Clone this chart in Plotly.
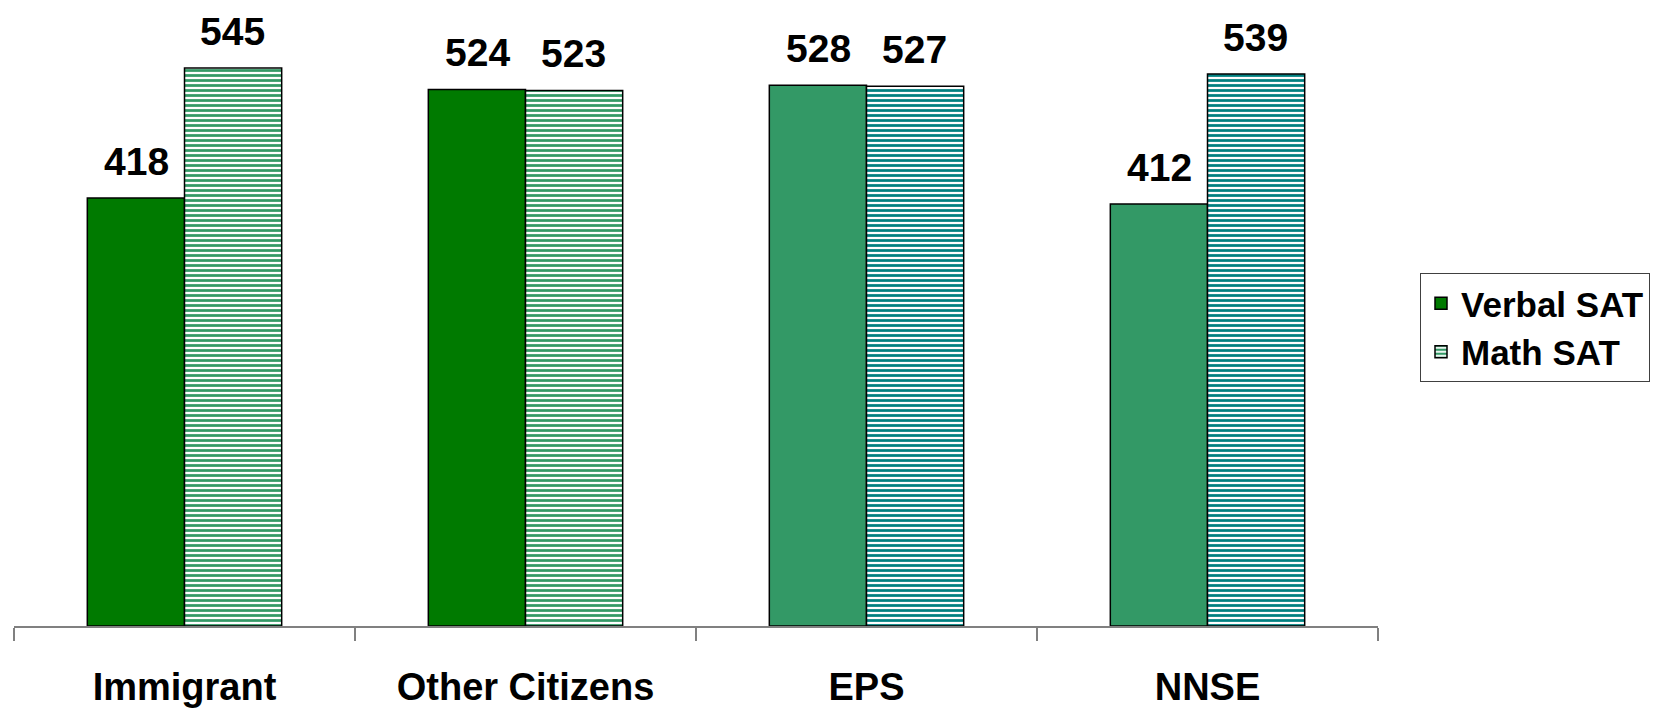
import plotly.graph_objects as go

categories = ["Immigrant", "Other Citizens", "EPS", "NNSE"]
verbal = [418, 524, 528, 412]
math = [545, 523, 527, 539]
verbal_colors = ["#007A00", "#007A00", "#339966", "#339966"]
math_stripe_colors = ["#339966", "#339966", "#008080", "#008080"]

FONT = "Arial, Liberation Sans, sans-serif"

# page has an 8px body margin; compensate so the drawing lands where the reference does
W, H = 1655, 702

fig = go.Figure()
fig.add_trace(go.Bar(
    name="Verbal SAT", x=categories, y=verbal,
    marker=dict(color=verbal_colors, line=dict(color="black", width=1.5)),
))
fig.add_trace(go.Bar(
    name="Math SAT", x=categories, y=math,
    marker=dict(color="white", line=dict(color="black", width=1.5),
                pattern=dict(shape="-", fgcolor=math_stripe_colors, bgcolor="white",
                             size=5, solidity=0.55, fillmode="replace")),
))

annotations = []
for cat, v, m in zip(categories, verbal, math):
    for val, shift in ((v, -48), (m, 48)):
        annotations.append(dict(
            x=cat, y=val, xref="x", yref="y", text=str(val), showarrow=False,
            xshift=shift, yanchor="bottom", yshift=14, borderpad=0,
            font=dict(family=FONT, size=39, color="black", weight="bold"),
        ))

fig.update_layout(
    width=W, height=H,
    paper_bgcolor="white", plot_bgcolor="white",
    barmode="group", bargap=0.43, bargroupgap=0,
    margin=dict(l=6, r=285, t=0, b=84, autoexpand=False),
    annotations=annotations,
    showlegend=True,
    legend=dict(
        xref="container", yref="container", x=1412 / W, y=1 - 265 / H,
        xanchor="left", yanchor="top",
        bgcolor="white", bordercolor="#404040", borderwidth=1,
        font=dict(family=FONT, size=35, color="black", weight="bold"),
        itemwidth=30,
    ),
    xaxis=dict(
        type="category", range=[-0.5, 3.5],
        showline=True, linecolor="#808080", linewidth=1.5,
        ticks="outside", tickson="boundaries", ticklen=13, tickcolor="#808080", tickwidth=1.5,
        tickfont=dict(family=FONT, size=38, color="black", weight="bold"),
        ticklabelstandoff=27,
        showgrid=False, zeroline=False,
    ),
    yaxis=dict(
        range=[0, 603.5], visible=False, showgrid=False, zeroline=False,
    ),
)

fig.write_html("out.html")
